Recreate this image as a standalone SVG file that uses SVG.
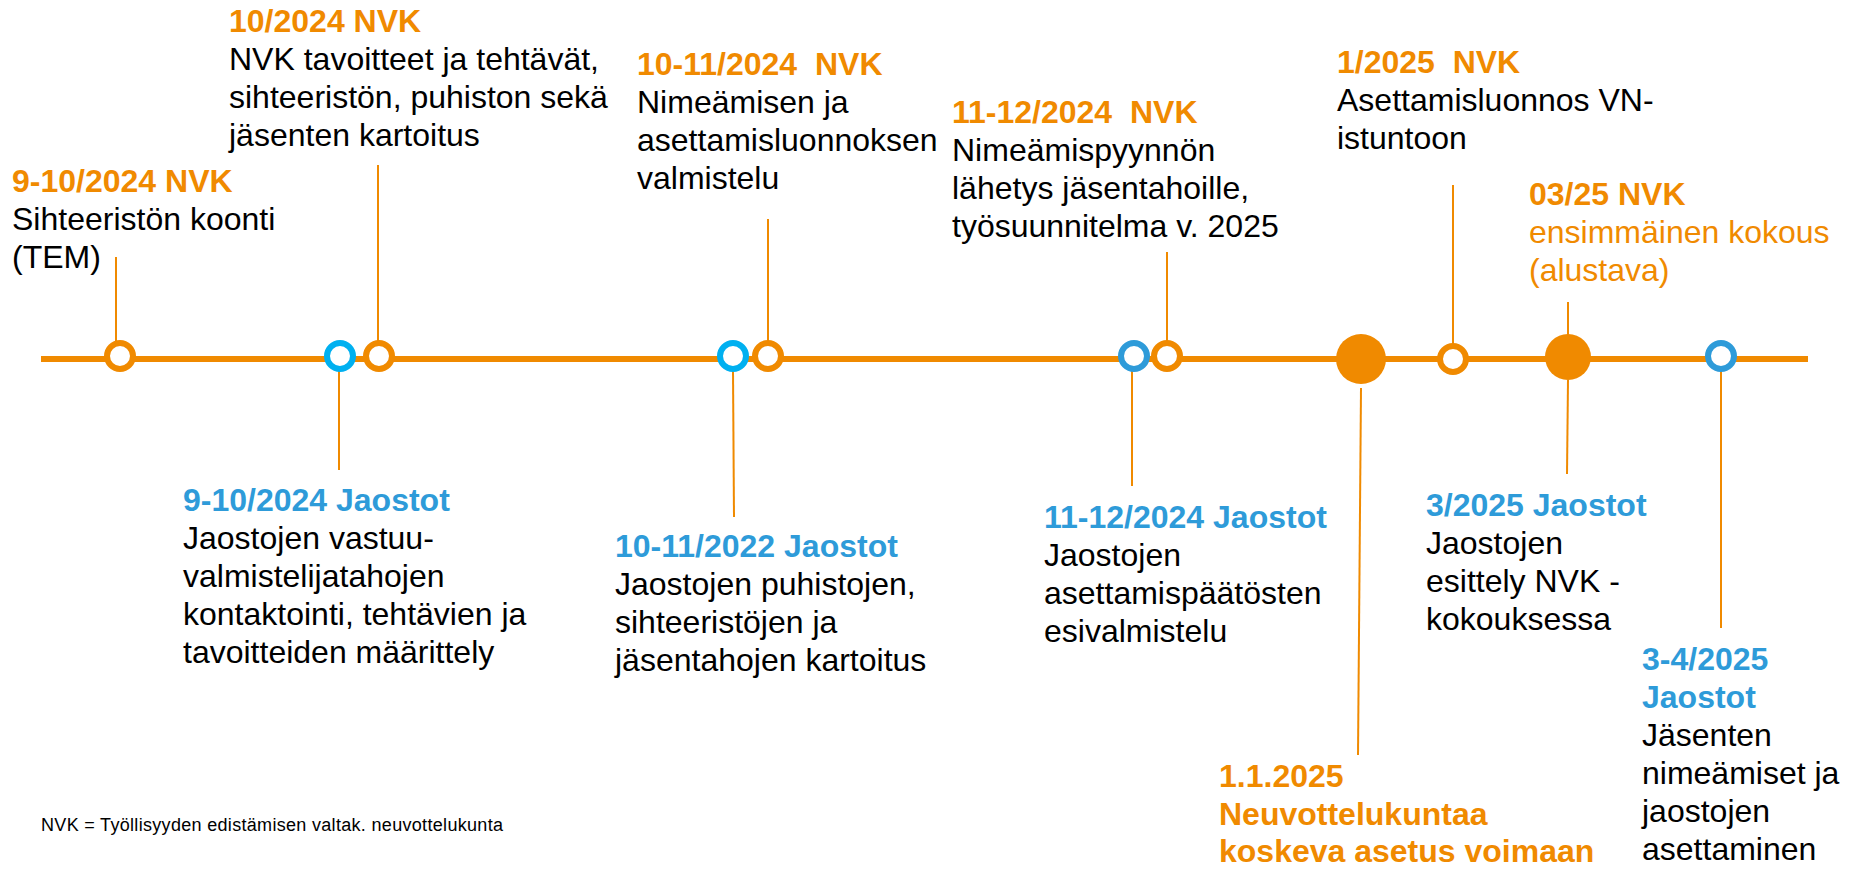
<svg xmlns="http://www.w3.org/2000/svg" width="1850" height="869" viewBox="0 0 1850 869">
<style>
text{font-family:"Liberation Sans",Arial,sans-serif;font-size:32px;fill:#000}
.h{font-weight:bold}
.o{fill:#F08A00}
.b{fill:#2E9BD9}
.ln{stroke:#F08A00;stroke-width:2;fill:none}
.axis{stroke:#F08A00;stroke-width:6;fill:none}
.ho{fill:#fff;stroke:#F08A00;stroke-width:6}
.hc{fill:#fff;stroke:#00B0F0;stroke-width:6}
.hb{fill:#fff;stroke:#2E9BD9;stroke-width:6}
.fo{fill:#F08A00}
.note{font-size:18px}
</style>
<rect width="1850" height="869" fill="#fff"/>
<g id="connectors">
<line class="axis" x1="41" y1="359" x2="1808" y2="359"/>
<line class="ln" x1="116" y1="257" x2="116" y2="342"/>
<line class="ln" x1="378" y1="165" x2="378" y2="342"/>
<line class="ln" x1="768" y1="219" x2="768" y2="342"/>
<line class="ln" x1="1167" y1="252" x2="1167" y2="342"/>
<line class="ln" x1="1453" y1="185" x2="1453" y2="345"/>
<line class="ln" x1="1568" y1="302" x2="1568" y2="336"/>
<line class="ln" x1="339" y1="371" x2="339" y2="470"/>
<line class="ln" x1="733" y1="371" x2="734" y2="517"/>
<line class="ln" x1="1132" y1="371" x2="1132" y2="486"/>
<line class="ln" x1="1361" y1="388" x2="1358" y2="755"/>
<line class="ln" x1="1568" y1="380" x2="1567" y2="474"/>
<line class="ln" x1="1721" y1="371" x2="1721" y2="628"/>
</g>
<g id="m1"><circle class="ho" cx="120" cy="356" r="13"/></g>
<g id="m2"><circle class="hc" cx="340" cy="356" r="13"/></g>
<g id="m3"><circle class="ho" cx="379" cy="356" r="13"/></g>
<g id="m4"><circle class="hc" cx="733" cy="356" r="13"/></g>
<g id="m5"><circle class="ho" cx="768" cy="356" r="13"/></g>
<g id="m6"><circle class="hb" cx="1134" cy="356" r="13"/></g>
<g id="m7"><circle class="ho" cx="1167" cy="356" r="13"/></g>
<g id="m8"><circle class="fo" cx="1361" cy="359" r="25"/></g>
<g id="m9"><circle class="ho" cx="1453" cy="359" r="13"/></g>
<g id="m10"><circle class="fo" cx="1568" cy="357" r="23"/></g>
<g id="m11"><circle class="hb" cx="1721" cy="356" r="13"/></g>

<g id="nA">
<text class="h o" x="12" y="192">9-10/2024 NVK</text>
<text x="12" y="230">Sihteeristön koonti</text>
<text x="12" y="268">(TEM)</text>
</g>
<g id="nB">
<text class="h o" x="229" y="32">10/2024 NVK</text>
<text x="229" y="70">NVK tavoitteet ja tehtävät,</text>
<text x="229" y="108">sihteeristön, puhiston sekä</text>
<text x="229" y="146">jäsenten kartoitus</text>
</g>
<g id="nC">
<text class="h o" x="637" y="75" xml:space="preserve">10-11/2024  NVK</text>
<text x="637" y="113">Nimeämisen ja</text>
<text x="637" y="151">asettamisluonnoksen</text>
<text x="637" y="189">valmistelu</text>
</g>
<g id="nD">
<text class="h o" x="952" y="123" xml:space="preserve">11-12/2024  NVK</text>
<text x="952" y="161">Nimeämispyynnön</text>
<text x="952" y="199">lähetys jäsentahoille,</text>
<text x="952" y="237">työsuunnitelma v. 2025</text>
</g>
<g id="nE">
<text class="h o" x="1337" y="73" xml:space="preserve">1/2025  NVK</text>
<text x="1337" y="111">Asettamisluonnos VN-</text>
<text x="1337" y="149">istuntoon</text>
</g>
<g id="nF">
<text class="h o" x="1529" y="205">03/25 NVK</text>
<text class="o" x="1529" y="243">ensimmäinen kokous</text>
<text class="o" x="1529" y="281">(alustava)</text>
</g>
<g id="nG">
<text class="h b" x="183" y="511">9-10/2024 Jaostot</text>
<text x="183" y="549">Jaostojen vastuu-</text>
<text x="183" y="587">valmistelijatahojen</text>
<text x="183" y="625">kontaktointi, tehtävien ja</text>
<text x="183" y="663">tavoitteiden määrittely</text>
</g>
<g id="nH">
<text class="h b" x="615" y="557">10-11/2022 Jaostot</text>
<text x="615" y="595">Jaostojen puhistojen,</text>
<text x="615" y="633">sihteeristöjen ja</text>
<text x="615" y="671">jäsentahojen kartoitus</text>
</g>
<g id="nI">
<text class="h b" x="1044" y="528">11-12/2024 Jaostot</text>
<text x="1044" y="566">Jaostojen</text>
<text x="1044" y="604">asettamispäätösten</text>
<text x="1044" y="642">esivalmistelu</text>
</g>
<g id="nJ">
<text class="h b" x="1426" y="516">3/2025 Jaostot</text>
<text x="1426" y="554">Jaostojen</text>
<text x="1426" y="592">esittely NVK -</text>
<text x="1426" y="630">kokouksessa</text>
</g>
<g id="nK">
<text class="h o" x="1219" y="787">1.1.2025</text>
<text class="h o" x="1219" y="825">Neuvottelukuntaa</text>
<text class="h o" x="1219" y="862">koskeva asetus voimaan</text>
</g>
<g id="nL">
<text class="h b" x="1642" y="670">3-4/2025</text>
<text class="h b" x="1642" y="708">Jaostot</text>
<text x="1642" y="746">Jäsenten</text>
<text x="1642" y="784">nimeämiset ja</text>
<text x="1642" y="822">jaostojen</text>
<text x="1642" y="860">asettaminen</text>
</g>
<g id="note">
<text class="note" x="41" y="831" textLength="462" lengthAdjust="spacing">NVK = Työllisyyden edistämisen valtak. neuvottelukunta</text>
</g>
</svg>
